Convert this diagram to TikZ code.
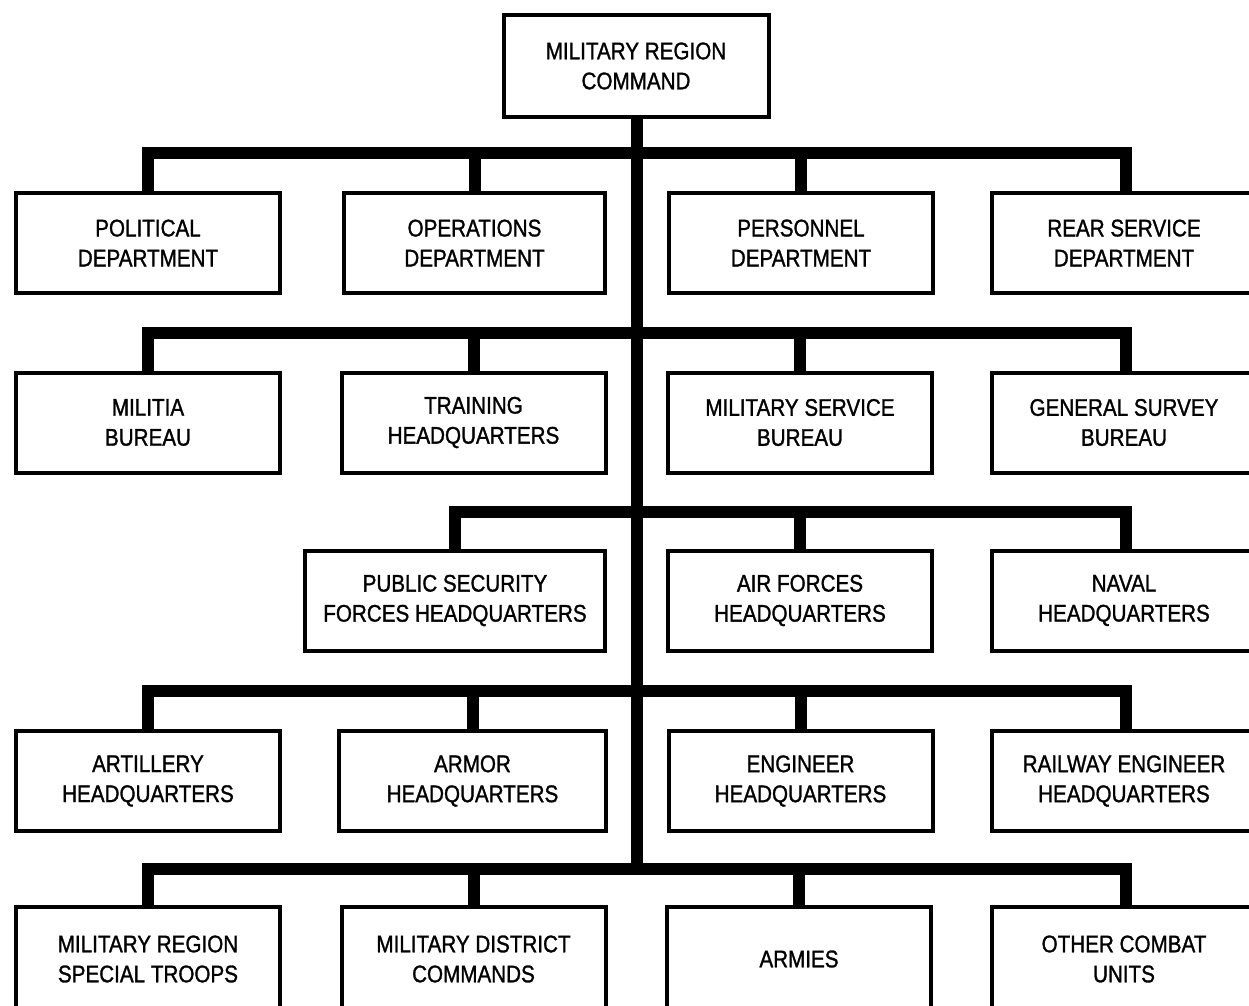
\documentclass[tikz,border=0pt]{standalone}
\usepackage{fontspec}
\setmainfont{Liberation Sans}[FakeStretch=0.86,FakeBold=1.2]
\begin{document}
\begin{tikzpicture}[x=1pt,y=-1pt,
  box/.style={draw, line width=4pt, minimum width=264pt, minimum height=100pt,
    align=center, inner sep=0pt, font=\fontsize{24}{30}\selectfont},
  rbox/.style={box, minimum width=290pt},
  conn/.style={line width=12pt, line join=miter, line cap=butt}]
\useasboundingbox (0,0) rectangle (1249,1005);
\clip (0,0) rectangle (1249,1005);
% boxes
\node[box, minimum width=265pt, minimum height=102pt] (top) at (636,66) {MILITARY REGION\\COMMAND};
% row 1
\node[box] (pol) at (148,243) {POLITICAL\\DEPARTMENT};
\node[box, minimum width=261pt] (ops) at (474.5,243) {OPERATIONS\\DEPARTMENT};
\node[box] (per) at (801,243) {PERSONNEL\\DEPARTMENT};
\node[rbox] (rear) at (1137,243) {REAR SERVICE\hspace*{26pt}\\DEPARTMENT\hspace*{26pt}};
% row 2
\node[box] (mil) at (148,422.5) {MILITIA\\BUREAU};
\node[box] (trn) at (473.5,422.5) {TRAINING\\HEADQUARTERS};
\node[box] (msb) at (800,422.5) {MILITARY SERVICE\\BUREAU};
\node[rbox] (gsb) at (1137,422.5) {GENERAL SURVEY\hspace*{26pt}\\BUREAU\hspace*{26pt}};
% row 3
\node[box, minimum width=300pt] (psf) at (455,600.5) {PUBLIC SECURITY\\FORCES HEADQUARTERS};
\node[box] (air) at (800,600.5) {AIR FORCES\\HEADQUARTERS};
\node[rbox] (nav) at (1137,600.5) {NAVAL\hspace*{26pt}\\HEADQUARTERS\hspace*{26pt}};
% row 4
\node[box] (art) at (148,781) {ARTILLERY\\HEADQUARTERS};
\node[box, minimum width=267pt] (arm) at (472.5,781) {ARMOR\\HEADQUARTERS};
\node[box] (eng) at (800.5,781) {ENGINEER\\HEADQUARTERS};
\node[rbox] (rly) at (1137,781) {RAILWAY ENGINEER\hspace*{26pt}\\HEADQUARTERS\hspace*{26pt}};
% row 5
\node[box, minimum height=104pt] (mrs) at (148,959) {MILITARY REGION\\SPECIAL TROOPS};
\node[box, minimum height=104pt] (mdc) at (473.5,959) {MILITARY DISTRICT\\COMMANDS};
\node[box, minimum height=104pt] (army) at (799,959) {ARMIES};
\node[rbox, minimum height=104pt] (oth) at (1137,959) {OTHER COMBAT\hspace*{26pt}\\UNITS\hspace*{26pt}};
% junctions
\coordinate (j1) at (637,153);
\coordinate (j2) at (637,333);
\coordinate (j3) at (637,512);
\coordinate (j4) at (637,691);
\coordinate (j5) at (637,869);
\coordinate (rx) at (1126,0);
% trunk
\draw[conn] (top.south -| j1) -- (j5);
% bars
\draw[conn] (pol.north) |- (j1) -| (rear.north -| rx);
\draw[conn] (ops.north) -- (ops.north |- j1);
\draw[conn] (per.north) -- (per.north |- j1);
\draw[conn] (mil.north) |- (j2) -| (gsb.north -| rx);
\draw[conn] (trn.north) -- (trn.north |- j2);
\draw[conn] (msb.north) -- (msb.north |- j2);
\draw[conn] (psf.north) |- (j3) -| (nav.north -| rx);
\draw[conn] (air.north) -- (air.north |- j3);
\draw[conn] (art.north) |- (j4) -| (rly.north -| rx);
\draw[conn] (arm.north) -- (arm.north |- j4);
\draw[conn] (eng.north) -- (eng.north |- j4);
\draw[conn] (mrs.north) |- (j5) -| (oth.north -| rx);
\draw[conn] (mdc.north) -- (mdc.north |- j5);
\draw[conn] (army.north) -- (army.north |- j5);
\end{tikzpicture}
\end{document}
